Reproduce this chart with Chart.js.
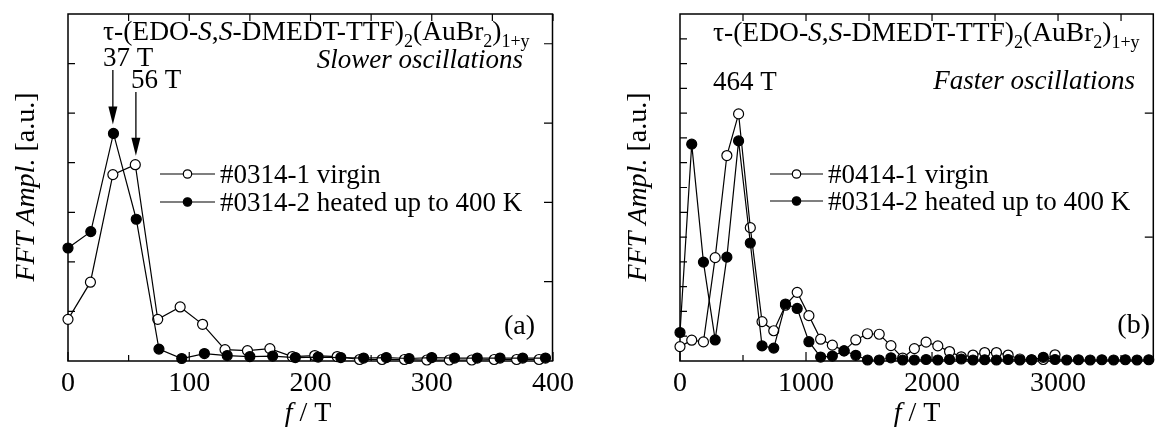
<!DOCTYPE html>
<html>
<head>
<meta charset="utf-8">
<script src="https://cdn.jsdelivr.net/npm/chart.js@4.4.1/dist/chart.umd.min.js"></script>
<style>
  html, body { margin: 0; padding: 0; background: #fff; }
  #wrap { position: relative; width: 1160px; height: 430px; }
  .panel { position: absolute; top: 0; width: 580px; height: 430px; }
  #pa { left: 0; }
  #pb { left: 580px; }
</style>
</head>
<body>
<div id="wrap">
  <div class="panel" id="pa"><canvas id="chartA" width="580" height="430"></canvas></div>
  <div class="panel" id="pb"><canvas id="chartB" width="580" height="430"></canvas></div>
</div>
<script>
// ---- panel (a): slower oscillations ----
const freqVirginA = [0, 18.5, 37, 55.5, 74, 92.5, 111, 129.5, 148, 166.5, 185, 203.5, 222, 240.5, 259, 277.5, 296, 314.5, 333, 351.5, 370, 388.5];
const amplVirginA = [0.84, 1.59, 3.76, 3.96, 0.84, 1.09, 0.74, 0.23, 0.21, 0.25, 0.09, 0.11, 0.09, 0.03, 0.03, 0.03, 0.02, 0.02, 0.02, 0.03, 0.03, 0.03];
const freqHeatedA = [0, 18.8, 37.5, 56.3, 75, 93.8, 112.5, 131.3, 150, 168.8, 187.5, 206.3, 225, 243.8, 262.5, 281.3, 300, 318.8, 337.5, 356.3, 375, 393.8];
const amplHeatedA = [2.28, 2.61, 4.59, 2.86, 0.24, 0.05, 0.15, 0.11, 0.09, 0.10, 0.07, 0.08, 0.07, 0.06, 0.07, 0.05, 0.07, 0.06, 0.06, 0.06, 0.06, 0.06];
const xTicksA = [0, 100, 200, 300, 400];
const peaksA = [37, 56];

// ---- panel (b): faster oscillations ----
const freqVirginB = [0, 93, 186, 279, 372, 465, 558, 651, 744, 837, 930, 1023, 1116, 1209, 1302, 1395, 1488, 1581, 1674, 1767, 1860, 1953, 2046, 2139, 2232, 2325, 2418, 2511, 2604, 2697, 2790, 2883, 2976];
const amplVirginB = [0.58, 0.84, 0.77, 4.17, 8.29, 9.97, 5.38, 1.59, 1.22, 2.25, 2.77, 1.83, 0.88, 0.64, 0.41, 0.85, 1.10, 1.08, 0.62, 0.12, 0.50, 0.76, 0.61, 0.38, 0.17, 0.24, 0.34, 0.34, 0.24, 0.08, 0.05, 0.06, 0.25];
const freqHeatedB = [0, 93, 186, 279, 372, 465, 558, 651, 744, 837, 930, 1023, 1116, 1209, 1302, 1395, 1488, 1581, 1674, 1767, 1860, 1953, 2046, 2139, 2232, 2325, 2418, 2511, 2604, 2697, 2790, 2883, 2976, 3069, 3162, 3255, 3348, 3441, 3534, 3627, 3720];
const amplHeatedB = [1.15, 8.75, 3.99, 0.85, 4.19, 8.88, 4.76, 0.61, 0.52, 2.30, 2.12, 0.78, 0.16, 0.20, 0.41, 0.23, 0.04, 0.04, 0.13, 0.04, 0.04, 0.06, 0.04, 0.06, 0.08, 0.04, 0.05, 0.04, 0.06, 0.04, 0.05, 0.15, 0.06, 0.04, 0.05, 0.04, 0.05, 0.04, 0.05, 0.04, 0.05];
const xTicksB = [0, 1000, 2000, 3000];
const peaksB = [464];

const SERIF = '"Liberation Serif", "Times New Roman", serif';

function xy(xs, ys) { return xs.map((x, i) => ({ x: x, y: ys[i] })); }

function fontOf(r, size) {
  const s = (r.sub || r.sup) ? Math.round(size * 0.66) : size;
  return (r.i ? 'italic ' : '') + s + 'px ' + SERIF;
}

// draw a run of mixed text (italic / subscript) on one baseline
function drawRich(ctx, runs, x, y, size, align) {
  let w = 0;
  runs.forEach(r => { ctx.font = fontOf(r, size); w += ctx.measureText(r.t).width; });
  let cx = align === 'right' ? x - w : align === 'center' ? x - w / 2 : x;
  ctx.save();
  ctx.fillStyle = '#000';
  ctx.textAlign = 'left';
  ctx.textBaseline = 'alphabetic';
  runs.forEach(r => {
    ctx.font = fontOf(r, size);
    const dy = r.sub ? size * 0.25 : 0;
    ctx.fillText(r.t, cx, y + dy);
    cx += ctx.measureText(r.t).width;
  });
  ctx.restore();
}

const titleRuns = [
  { t: 'τ-(EDO-' }, { t: 'S', i: true }, { t: ',' }, { t: 'S', i: true }, { t: '-DMEDT-TTF)' },
  { t: '2', sub: true }, { t: '(AuBr' }, { t: '2', sub: true }, { t: ')' }, { t: '1+y', sub: true }
];

const deco = {
  id: 'deco',
  beforeDatasetsDraw(chart) {
    const o = chart.options.plugins.deco;
    const { ctx, chartArea: a } = chart;
    const sx = chart.scales.x, sy = chart.scales.y;
    ctx.save();
    ctx.strokeStyle = '#000';
    ctx.lineWidth = 1.5;
    ctx.strokeRect(a.left, a.top, a.right - a.left - 0.5, a.bottom - a.top);
    ctx.lineWidth = 1.2;
    ctx.beginPath();
    // bottom and top ticks, pointing inward
    for (let v = 0; v <= sx.max; v += o.xMinor) {
      const p = sx.getPixelForValue(v);
      const major = Math.abs(v / o.xMajor - Math.round(v / o.xMajor)) < 1e-6;
      ctx.moveTo(p, a.bottom); ctx.lineTo(p, a.bottom - (major ? 9 : 6));
      if (v > 0) { ctx.moveTo(p, a.top); ctx.lineTo(p, a.top + 7); }
    }
    for (let v = o.yLeft; v < sy.max; v += o.yLeft) {
      const p = sy.getPixelForValue(v);
      ctx.moveTo(a.left, p); ctx.lineTo(a.left + 7, p);
    }
    for (let v = o.yRight; v < sy.max; v += o.yRight) {
      const p = sy.getPixelForValue(v);
      ctx.moveTo(a.right - 1, p); ctx.lineTo(a.right - 9, p);
    }
    ctx.stroke();
    ctx.restore();
  },
  afterDraw(chart) {
    const o = chart.options.plugins.deco;
    const { ctx } = chart;
    const sx = chart.scales.x, sy = chart.scales.y;
    o.texts.forEach(t => drawRich(ctx, t.runs, t.x, t.y, t.size, t.align));

    // legend: line with a marker in the middle, then the label
    const L = o.legend;
    L.rows.forEach((row, k) => {
      const y = L.y + k * L.dy;
      ctx.save();
      ctx.strokeStyle = '#000';
      ctx.lineWidth = 1.2;
      ctx.beginPath(); ctx.moveTo(L.x1, y); ctx.lineTo(L.x2, y); ctx.stroke();
      ctx.beginPath(); ctx.arc((L.x1 + L.x2) / 2, y, 4.2, 0, Math.PI * 2);
      ctx.fillStyle = row.filled ? '#000' : '#fff';
      ctx.fill(); ctx.stroke();
      ctx.restore();
      drawRich(ctx, [{ t: row.text }], L.x2 + 5, y + 9, L.size, 'left');
    });

    // rotated y title and x title
    ctx.save();
    ctx.translate(o.yTitle.x, o.yTitle.y);
    ctx.rotate(-Math.PI / 2);
    drawRich(ctx, [{ t: 'FFT Ampl.', i: true }, { t: ' [a.u.]' }], 0, 0, 28, 'center');
    ctx.restore();
    drawRich(ctx, [{ t: 'f', i: true }, { t: ' / T' }], o.xTitle.x, o.xTitle.y, 28, 'center');

    // arrows to the peaks
    (o.arrows || []).forEach(ar => {
      const x = sx.getPixelForValue(ar.f);
      const tip = sy.getPixelForValue(ar.peak) - 9;
      ctx.save();
      ctx.strokeStyle = '#000'; ctx.fillStyle = '#000'; ctx.lineWidth = 1.3;
      ctx.beginPath(); ctx.moveTo(x, ar.from); ctx.lineTo(x, tip - 12); ctx.stroke();
      ctx.beginPath(); ctx.moveTo(x - 4.5, tip - 18); ctx.lineTo(x + 4.5, tip - 18); ctx.lineTo(x, tip); ctx.closePath(); ctx.fill();
      ctx.restore();
    });
  }
};

function makeChart(id, c) {
  const lineStyle = { borderColor: '#000', borderWidth: 1.2, pointRadius: 5, pointHoverRadius: 5, pointBorderColor: '#000', pointBorderWidth: 1.2, tension: 0, clip: false, fill: false };
  return new Chart(document.getElementById(id), {
    type: 'line',
    data: {
      datasets: [
        Object.assign({ label: c.names[1], data: xy(c.fx2, c.fy2), pointBackgroundColor: '#000', order: 0 }, lineStyle),
        Object.assign({ label: c.names[0], data: xy(c.fx1, c.fy1), pointBackgroundColor: '#fff', order: 1 }, lineStyle)
      ]
    },
    options: {
      responsive: false,
      animation: false,
      devicePixelRatio: 1,
      layout: { padding: { left: c.left, right: c.right, top: 14, bottom: 0 } },
      plugins: { legend: { display: false }, tooltip: { enabled: false }, deco: c.deco },
      scales: {
        x: {
          type: 'linear', min: 0, max: c.xmax,
          afterBuildTicks: s => { s.ticks = c.xticks.map(v => ({ value: v })); },
          afterFit: s => { s.height = 69; },
          grid: { display: false, drawTicks: false },
          border: { display: false },
          ticks: { font: { family: SERIF, size: 28 }, color: '#000', padding: 6, maxRotation: 0, autoSkip: false, callback: v => String(v) }
        },
        y: { type: 'linear', min: 0, max: c.ymax, display: false }
      }
    },
    plugins: [deco]
  });
}

makeChart('chartA', {
  names: ['#0314-1 virgin', '#0314-2 heated up to 400 K'],
  fx1: freqVirginA, fy1: amplVirginA, fx2: freqHeatedA, fy2: amplHeatedA,
  xmax: 400, ymax: 7, xticks: xTicksA, left: 68, right: 24,
  deco: {
    xMajor: 100, xMinor: 50, yLeft: 1, yRight: 1.6,
    texts: [
      { runs: titleRuns, x: 103, y: 40, size: 27.5, align: 'left' },
      { runs: [{ t: peaksA[0] + ' T' }], x: 103, y: 66, size: 27, align: 'left' },
      { runs: [{ t: peaksA[1] + ' T' }], x: 131, y: 88, size: 27, align: 'left' },
      { runs: [{ t: 'Slower oscillations', i: true }], x: 523, y: 68, size: 27, align: 'right' },
      { runs: [{ t: '(a)' }], x: 535, y: 334, size: 28, align: 'right' }
    ],
    legend: { x1: 160, x2: 215, y: 174, dy: 28, size: 27, rows: [
      { text: '#0314-1 virgin', filled: false },
      { text: '#0314-2 heated up to 400 K', filled: true }
    ] },
    yTitle: { x: 34, y: 187 },
    xTitle: { x: 308, y: 421 },
    arrows: [
      { f: peaksA[0], peak: Math.max(...amplHeatedA), from: 70 },
      { f: peaksA[1], peak: Math.max(...amplVirginA), from: 92 }
    ]
  }
});

makeChart('chartB', {
  names: ['#0414-1 virgin', '#0314-2 heated up to 400 K'],
  fx1: freqVirginB, fy1: amplVirginB, fx2: freqHeatedB, fy2: amplHeatedB,
  xmax: 3760, ymax: 14, xticks: xTicksB, left: 100, right: 0,
  deco: {
    xMajor: 1000, xMinor: 500, yLeft: 1, yRight: 5,
    texts: [
      { runs: titleRuns, x: 133, y: 41, size: 27.5, align: 'left' },
      { runs: [{ t: peaksB[0] + ' T' }], x: 133, y: 90, size: 27, align: 'left' },
      { runs: [{ t: 'Faster oscillations', i: true }], x: 555, y: 89, size: 27, align: 'right' },
      { runs: [{ t: '(b)' }], x: 570, y: 333, size: 28, align: 'right' }
    ],
    legend: { x1: 190, x2: 243, y: 174, dy: 27, size: 27, rows: [
      { text: '#0414-1 virgin', filled: false },
      { text: '#0314-2 heated up to 400 K', filled: true }
    ] },
    yTitle: { x: 66, y: 187 },
    xTitle: { x: 337, y: 421 }
  }
});
</script>
</body>
</html>
